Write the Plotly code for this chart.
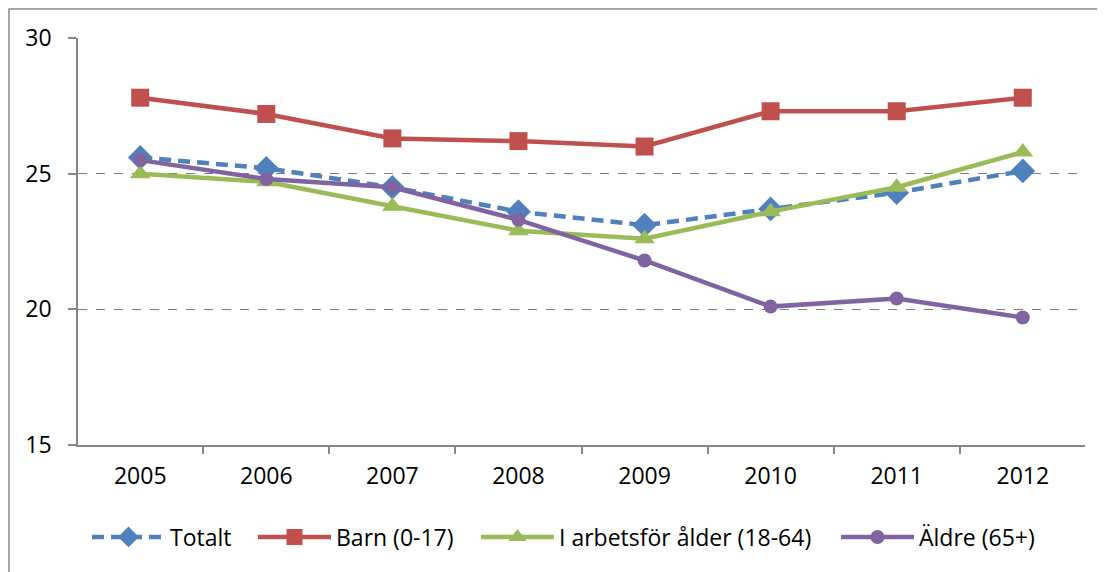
import plotly.graph_objects as go

# ----------------------
# Data
# ----------------------
years = ["2005", "2006", "2007", "2008", "2009", "2010", "2011", "2012"]
totalt = [25.6, 25.2, 24.5, 23.6, 23.1, 23.7, 24.3, 25.1]
barn = [27.8, 27.2, 26.3, 26.2, 26.0, 27.3, 27.3, 27.8]
arbetsfor = [25.0, 24.7, 23.8, 22.9, 22.6, 23.6, 24.5, 25.8]
aldre = [25.5, 24.8, 24.5, 23.3, 21.8, 20.1, 20.4, 19.7]

FONT = "Open Sans, Noto Sans, sans-serif"
AXIS_GREY = "#868686"

# plot area in page pixels (the page body adds an 8px offset)
PLOT_LEFT, PLOT_W = 78, 1007
PLOT_BOTTOM, PLOT_H = 445, 407

fig = go.Figure()

# Totalt - dashed blue with diamonds
fig.add_trace(go.Scatter(
    x=years, y=totalt, name="Totalt", mode="lines+markers", legend="legend",
    line=dict(color="#4F81BD", width=4.5, dash="12px,7px"),
    marker=dict(symbol="diamond", size=19, color="#4F81BD"),
))

# Barn - red with squares
fig.add_trace(go.Scatter(
    x=years, y=barn, name="Barn (0-17)", mode="lines+markers", legend="legend2",
    line=dict(color="#C0504D", width=4.5),
    marker=dict(symbol="square", size=18, color="#C0504D"),
))

# Working age - green with triangles
fig.add_trace(go.Scatter(
    x=years, y=arbetsfor, name="I arbetsför ålder (18-64)", mode="lines+markers",
    legend="legend3",
    line=dict(color="#9BBB59", width=4.5),
    marker=dict(symbol="triangle-up", size=18, color="#9BBB59"),
))

# Elderly - purple with circles
fig.add_trace(go.Scatter(
    x=years, y=aldre, name="Äldre (65+)", mode="lines+markers", legend="legend4",
    line=dict(color="#8064A2", width=4.5),
    marker=dict(symbol="circle", size=14, color="#8064A2"),
))

# outer chart border (partly cut off on right/bottom like the reference)
fig.add_shape(
    type="rect", xref="paper", yref="paper",
    x0=(9 - PLOT_LEFT) / PLOT_W, x1=1.05, y0=-0.4, y1=(PLOT_BOTTOM - 9) / PLOT_H,
    line=dict(color="#8c8c8c", width=1.5), fillcolor="rgba(0,0,0,0)",
    layer="below",
)


def legend_at(px):
    # one legend per series so each entry can sit where the reference has it
    return dict(
        orientation="h", x=(px - PLOT_LEFT) / PLOT_W, xanchor="left",
        y=(PLOT_BOTTOM - 537) / PLOT_H, yanchor="middle",
        font=dict(family=FONT, size=23, color="black"),
        itemwidth=73, bgcolor="rgba(0,0,0,0)",
    )


fig.update_layout(
    width=1105,
    height=572,
    margin=dict(l=70, r=28, t=30, b=135, autoexpand=False),
    paper_bgcolor="white",
    plot_bgcolor="white",
    font=dict(family=FONT, size=23, color="black"),
    showlegend=True,
    legend=legend_at(87),
    legend2=legend_at(253),
    legend3=legend_at(476),
    legend4=legend_at(836),
    xaxis=dict(
        type="category",
        showgrid=False,
        showline=True, linecolor=AXIS_GREY, linewidth=1.5,
        ticks="outside", tickson="boundaries", ticklen=7,
        tickcolor=AXIS_GREY, tickwidth=1.5,
        tickfont=dict(family=FONT, size=23, color="black"),
        ticklabelstandoff=10,
        zeroline=False,
    ),
    yaxis=dict(
        range=[15, 30], dtick=5,
        showgrid=True, gridcolor="#7f7f7f", griddash="dash", gridwidth=1,
        showline=True, linecolor=AXIS_GREY, linewidth=1.5,
        ticks="outside", ticklen=8, tickcolor=AXIS_GREY, tickwidth=1.5,
        tickfont=dict(family=FONT, size=23, color="black"),
        ticklabelstandoff=12,
        zeroline=False,
    ),
)

fig.write_html("out.html")
